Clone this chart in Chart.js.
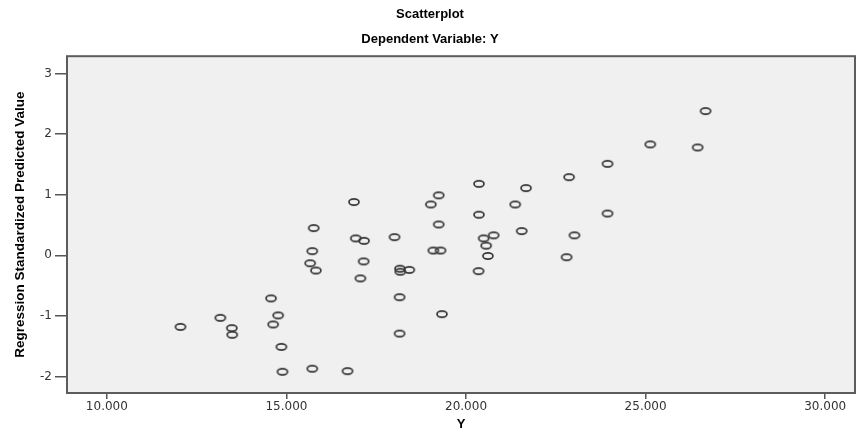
<!DOCTYPE html>
<html>
<head>
<meta charset="utf-8">
<script src="https://cdn.jsdelivr.net/npm/chart.js@4/dist/chart.umd.min.js"></script>
<style>
  html, body { margin: 0; padding: 0; background: #fff; }
  #wrap { width: 861px; height: 432px; }
</style>
</head>
<body>
<div id="wrap"><canvas id="scatter"></canvas></div>
<script>
const yObserved = [
    26.67, 25.13, 26.45, 23.94, 22.87, 21.67, 20.36, 19.24, 19.02, 16.88,
    21.37, 20.36, 23.94, 19.24, 15.76, 21.55, 16.93, 17.16, 18.01, 20.49,
    20.77, 23.02, 20.56, 15.72, 19.09, 19.29, 20.61, 22.80, 15.66, 17.15,
    15.82, 18.16, 18.17, 18.42, 20.35, 17.06, 14.57, 18.15, 13.16, 14.77,
    19.33, 12.05, 13.48, 14.63, 13.49, 18.15, 14.86, 14.89, 15.72, 16.70
];
const predictedStd = [
    2.38, 1.83, 1.78, 1.51, 1.29, 1.11, 1.18, 0.99, 0.84, 0.88,
    0.84, 0.67, 0.69, 0.51, 0.45, 0.40, 0.28, 0.24, 0.30, 0.28,
    0.33, 0.33, 0.16, 0.07, 0.08, 0.08, -0.01, -0.03, -0.13, -0.10,
    -0.25, -0.22, -0.27, -0.24, -0.26, -0.38, -0.71, -0.69, -1.03, -0.99,
    -0.97, -1.18, -1.20, -1.14, -1.31, -1.29, -1.51, -1.92, -1.87, -1.91
];
const xTicks = [10, 15, 20, 25, 30];
const yTicks = [-2, -1, 0, 1, 2, 3];

const points = yObserved.map((x, i) => ({ x: x, y: predictedStd[i] }));

// hollow oval marker like the SPSS one
const marker = document.createElement('canvas');
marker.width = 14;
marker.height = 10;
(function () {
    const m = marker.getContext('2d');
    m.strokeStyle = '#363636';
    m.lineWidth = 1.7;
    m.beginPath();
    m.ellipse(7, 5, 5, 3.1, 0, 0, Math.PI * 2);
    m.stroke();
})();

const tickFont = { family: "'DejaVu Sans', sans-serif", size: 12 };

const plotFrame = {
    id: 'plotFrame',
    beforeDatasetsDraw(chart) {
        const { ctx, chartArea: a } = chart;
        ctx.save();
        ctx.fillStyle = '#f0f0f0';
        ctx.fillRect(a.left, a.top, a.right - a.left, a.bottom - a.top);
        ctx.strokeStyle = '#5c5c5c';
        ctx.lineWidth = 2;
        ctx.strokeRect(a.left, a.top, a.right - a.left, a.bottom - a.top);
        ctx.restore();
    }
};

new Chart(document.getElementById('scatter'), {
    type: 'scatter',
    data: {
        datasets: [{
            data: points,
            pointStyle: marker,
            pointRadius: 5,
            pointHoverRadius: 5
        }]
    },
    options: {
        responsive: true,
        maintainAspectRatio: false,
        animation: false,
        layout: { padding: { left: 0, right: 1, top: 0, bottom: 0 } },
        plugins: {
            legend: { display: false },
            tooltip: { enabled: false },
            title: {
                display: true,
                text: 'Scatterplot',
                color: '#000',
                font: { family: "'Liberation Sans', Arial, sans-serif", size: 13, weight: 'bold' },
                padding: { top: 7, bottom: 4 }
            },
            subtitle: {
                display: true,
                text: 'Dependent Variable: Y',
                color: '#000',
                font: { family: "'Liberation Sans', Arial, sans-serif", size: 13, weight: 'bold' },
                padding: { top: 5, bottom: 9 }
            }
        },
        scales: {
            x: {
                type: 'linear',
                min: 8.89,
                max: 30.83,
                afterBuildTicks: (scale) => { scale.ticks = xTicks.map(v => ({ value: v })); },
                afterFit: (scale) => {
                    scale.height = 39;
                    scale.paddingLeft = 0;
                    scale.paddingRight = 0;
                },
                grid: { drawOnChartArea: false, drawTicks: true, tickLength: 6, color: '#555', lineWidth: 1.5 },
                border: { display: false },
                ticks: {
                    color: '#333',
                    font: tickFont,
                    padding: 1,
                    maxRotation: 0,
                    callback: (v) => v.toFixed(3)
                },
                title: {
                    display: true,
                    text: 'Y',
                    color: '#000',
                    font: { family: "'Liberation Sans', Arial, sans-serif", size: 13, weight: 'bold' },
                    padding: { top: 0, bottom: 0 }
                }
            },
            y: {
                type: 'linear',
                min: -2.27,
                max: 3.285,
                afterBuildTicks: (scale) => { scale.ticks = yTicks.map(v => ({ value: v })); },
                afterFit: (scale) => { scale.width = 67; },
                grid: { drawOnChartArea: false, drawTicks: true, tickLength: 12, color: '#555', lineWidth: 1.5 },
                border: { display: false },
                ticks: {
                    color: '#333',
                    font: tickFont,
                    padding: 3,
                    callback: (v) => String(v)
                },
                title: {
                    display: true,
                    text: 'Regression Standardized Predicted Value',
                    color: '#000',
                    font: { family: "'Liberation Sans Narrow', 'Liberation Sans', Arial, sans-serif", size: 13.5, weight: 'bold' },
                    padding: { top: 12, bottom: 0 }
                }
            }
        }
    },
    plugins: [plotFrame]
});
</script>
</body>
</html>
